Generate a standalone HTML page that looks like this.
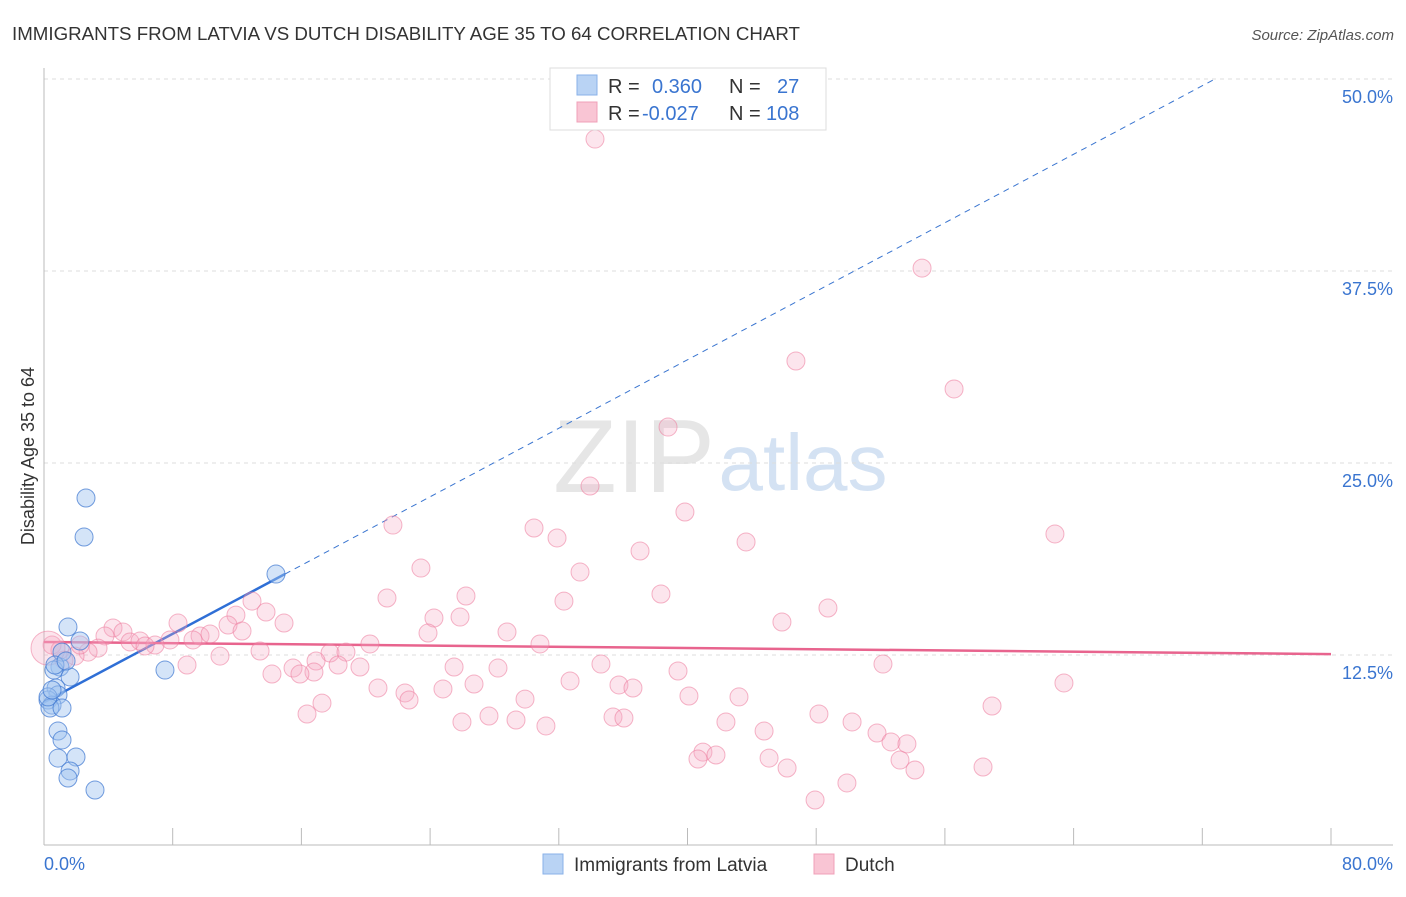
<!DOCTYPE html>
<html><head><meta charset="utf-8">
<style>
body{margin:0;background:#fff;font-family:"Liberation Sans",sans-serif;}
svg text{font-family:"Liberation Sans",sans-serif;}
</style></head>
<body>
<svg id="chart" width="1406" height="892" xmlns="http://www.w3.org/2000/svg">
<text x="12" y="40" font-size="18" fill="#333" textLength="788" lengthAdjust="spacingAndGlyphs">IMMIGRANTS FROM LATVIA VS DUTCH DISABILITY AGE 35 TO 64 CORRELATION CHART</text>
<text x="1394" y="40" font-size="15" fill="#555" text-anchor="end" font-style="italic">Source: ZipAtlas.com</text>
<text x="634" y="492" font-size="104" fill="#e6e6e6" font-family="Liberation Serif" text-anchor="middle">ZIP</text>
<text x="803" y="490" font-size="80" fill="#d4e2f3" text-anchor="middle">atlas</text>
<text transform="translate(34,456) rotate(-90)" font-size="18" fill="#333" text-anchor="middle">Disability Age 35 to 64</text>
<g id="grid"></g>
<g id="axes"></g>
<g id="lines"></g>
<g id="points"></g>
<g>
<rect x="550" y="68" width="276" height="62" fill="#fff" stroke="#ddd"/>
<rect x="577" y="75" width="20" height="20" fill="#b9d3f4" stroke="#89b2e8"/>
<rect x="577" y="102" width="20" height="20" fill="#f9c5d4" stroke="#f0a0b8"/>
<text x="608" y="93" font-size="20" fill="#333">R =</text>
<text x="652" y="93" font-size="20" fill="#3a75d0">0.360</text>
<text x="729" y="93" font-size="20" fill="#333">N =</text>
<text x="777" y="93" font-size="20" fill="#3a75d0">27</text>
<text x="608" y="120" font-size="20" fill="#333">R =</text>
<text x="642" y="120" font-size="20" fill="#3a75d0">-0.027</text>
<text x="729" y="120" font-size="20" fill="#333">N =</text>
<text x="766" y="120" font-size="20" fill="#3a75d0">108</text>
</g>
<g>
<rect x="543" y="854" width="20" height="20" fill="#b9d3f4" stroke="#89b2e8"/>
<text x="574" y="871" font-size="19" fill="#333">Immigrants from Latvia</text>
<rect x="814" y="854" width="20" height="20" fill="#f9c5d4" stroke="#f0a0b8"/>
<text x="845" y="871" font-size="19" fill="#333">Dutch</text>
</g>
</svg>
<script>
const blueX=[2.61,2.49,1.49,2.24,14.42,7.52,0.99,0.62,1.12,1.62,0.75,0.87,0.25,0.50,0.37,1.12,0.87,1.12,0.87,1.99,1.62,1.49,3.17,0.68,0.25,1.37,0.50];
const blueY=[22.72,20.18,14.32,13.41,17.77,11.52,11.72,11.52,12.69,11.07,10.35,9.90,9.57,9.24,9.05,9.05,7.55,6.97,5.79,5.86,4.95,4.49,3.71,11.85,9.77,12.11,10.22];
const pinkX=[34.25,54.58,46.74,56.57,38.79,33.94,39.84,21.69,30.46,31.89,62.84,37.05,43.64,23.43,33.32,21.32,26.23,32.32,38.35,48.73,12.93,13.80,11.93,25.86,24.24,14.92,8.33,11.44,45.87,28.78,23.87,12.31,4.29,4.91,7.83,30.83,20.26,3.79,5.35,5.97,6.90,6.28,9.70,10.32,9.26,3.36,2.74,1.93,1.24,0.50,10.94,13.43,17.78,18.77,16.91,19.64,15.48,16.78,18.28,25.49,28.22,34.62,39.41,52.15,8.89,14.17,15.91,32.70,35.74,36.61,26.73,24.80,20.76,22.44,22.69,29.90,40.09,43.20,63.40,17.28,16.35,27.66,25.98,29.34,31.20,35.37,36.05,42.39,44.76,48.17,50.23,51.78,52.65,53.64,58.93,40.96,40.65,41.77,45.07,46.19,53.21,54.14,58.37,49.91,47.93,0.99,2.24,0.25];
const pinkY=[46.09,37.69,31.64,29.82,27.34,23.50,21.81,20.96,20.77,20.12,20.38,19.27,19.86,18.16,17.90,16.21,16.34,16.01,16.47,15.56,16.01,15.30,15.10,14.97,14.91,14.58,14.58,14.45,14.65,14.00,13.93,14.06,14.26,14.00,13.48,13.22,13.22,13.74,13.35,13.41,13.15,13.09,13.74,13.87,13.48,12.95,12.69,12.43,12.17,13.15,12.43,12.76,12.63,12.69,12.11,11.72,11.65,11.39,11.85,11.72,11.65,11.91,11.46,11.91,11.85,11.26,11.26,10.81,10.55,10.35,10.61,10.29,10.35,10.03,9.57,9.63,9.83,9.77,10.68,9.37,8.66,8.53,8.14,8.27,7.88,8.46,8.40,8.14,7.55,8.66,8.14,7.42,6.84,6.71,9.18,6.18,5.73,5.99,5.79,5.14,5.66,5.01,5.21,4.17,3.06,12.82,13.15,12.95];
const pinkR=[];for(let i=0;i<pinkX.length;i++)pinkR.push(i===pinkX.length-1?17:9);
const yTicks=[12.5,25,37.5,50];
const yTickLabels=["12.5%","25.0%","37.5%","50.0%"];
const xTicks=[0,8,16,24,32,40,48,56,64,72,80];
const blueTrend=[9.42,0.5575];
const blueTrendEnd=14.98;
const pinkTrend=[13.35,-0.0099];

const NS="http://www.w3.org/2000/svg";
const X=v=>44+v/80*1287;
const Y=v=>847-v/12.5*192;
function mk(parent,tag,attrs){const e=document.createElementNS(NS,tag);for(const k in attrs)e.setAttribute(k,attrs[k]);document.getElementById(parent).appendChild(e);return e;}

yTicks.forEach((t,i)=>{
  const g=mk('grid','line',{x1:44,x2:1393,y1:Y(t),y2:Y(t),stroke:'#ddd','stroke-dasharray':'4,4'});
  
  
  const tx=mk('axes','text',{x:1393,y:Y(t)+24,'font-size':18,fill:'#3a75d0','text-anchor':'end'});
  tx.textContent=yTickLabels[i];
  
  
});
const ya=mk('axes','line',{x1:44,x2:44,y1:68,y2:845,stroke:'#bbb'});


const xa=mk('axes','line',{x1:44,x2:1393,y1:845,y2:845,stroke:'#bbb'});


xTicks.forEach(t=>{
  const l=mk('axes','line',{x1:X(t),x2:X(t),y1:828,y2:845,stroke:'#bbb'});
  
  
});
const xl0=mk('axes','text',{x:44,y:870,'font-size':18,fill:'#3a75d0'});
xl0.textContent=xTicks[0].toFixed(1)+'%';


const xl1=mk('axes','text',{x:1393,y:870,'font-size':18,fill:'#3a75d0','text-anchor':'end'});
xl1.textContent=xTicks[xTicks.length-1].toFixed(1)+'%';



pinkX.forEach((x,i)=>{
  const c=mk('points','circle',{cx:X(x),cy:Y(pinkY[i]),r:pinkR[i],fill:'rgba(246,170,195,0.3)',stroke:'rgba(236,120,155,0.55)','stroke-width':1});
  
  
});
blueX.forEach((x,i)=>{
  const c=mk('points','circle',{cx:X(x),cy:Y(blueY[i]),r:9,fill:'rgba(160,196,240,0.45)',stroke:'rgba(58,117,208,0.7)','stroke-width':1});
  
  
});
const bx2=(50-blueTrend[0])/blueTrend[1];
const bd=mk('lines','line',{x1:X(blueTrendEnd),y1:Y(blueTrend[0]+blueTrend[1]*blueTrendEnd),x2:X(bx2),y2:Y(50),stroke:'#3a75d0','stroke-width':1,'stroke-dasharray':'6,5'});


const bl=mk('lines','line',{x1:X(0),y1:Y(blueTrend[0]),x2:X(blueTrendEnd),y2:Y(blueTrend[0]+blueTrend[1]*blueTrendEnd),stroke:'#2f6fd6','stroke-width':2.5});


const pl=mk('lines','line',{x1:X(0),y1:Y(pinkTrend[0]),x2:X(80),y2:Y(pinkTrend[0]+pinkTrend[1]*80),stroke:'#e8648e','stroke-width':2.5});


</script>
</body></html>
